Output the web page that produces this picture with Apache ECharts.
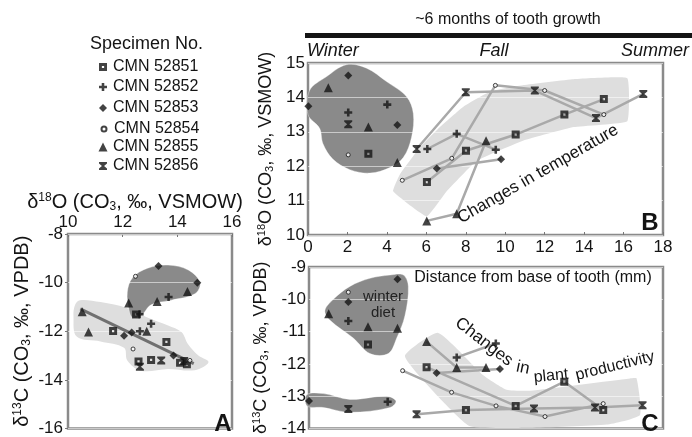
<!DOCTYPE html>
<html>
<head>
<meta charset="utf-8">
<script src="https://cdn.jsdelivr.net/npm/echarts@6/dist/echarts.min.js"></script>
<style>
  html, body { margin: 0; padding: 0; background: #fff; }
  #chart { width: 692px; height: 437px; }
</style>
</head>
<body>
<div id="chart"></div>
<script>
// specimen names + ticks
const specimens = ['CMN 52851', 'CMN 52852', 'CMN 52853', 'CMN 52854', 'CMN 52855', 'CMN 52856'];
const ticksA_x = [10, 12, 14, 16];
const ticksA_y = [-16, -14, -12, -10, -8];
const ticksB_x = [0, 18, 2];      // min, max, step
const ticksB_y = [10, 15, 1];
const ticksC_y = [-14, -9, 1];

// ---- panel A : d18O (x) vs d13C (y)
const aSquare = [[12.49, -11.31], [11.65, -11.99], [13.6, -12.44], [12.58, -13.24], [13.04, -13.18], [14.1, -13.3], [14.35, -13.36]];
const aPlus = [[13.68, -10.59], [13.04, -11.69], [12.63, -12.0], [12.62, -11.3]];
const aDiamond = [[13.31, -9.32], [14.73, -10.01], [12.05, -12.18], [12.33, -12.05], [13.86, -13.0]];
const aCircle = [[12.47, -9.74], [12.38, -12.73], [14.46, -13.2]];
const aTriangle = [[14.37, -10.36], [13.26, -10.78], [12.22, -10.84], [10.52, -11.2], [10.75, -12.03], [12.88, -12.0]];
const aHourglass = [[12.63, -13.46], [13.41, -13.2], [14.25, -13.22]];
const aTrend = [[10.45, -11.08], [14.6, -13.33]];
const aBlobDark = [[12.23, -11.11], [12.17, -10.39], [12.36, -9.8], [12.91, -9.41], [13.66, -9.28], [14.4, -9.48], [14.83, -10.0], [14.64, -10.46], [13.78, -10.72], [13.04, -10.91], [12.67, -11.37], [12.36, -11.44]];
const aBlobLight = [[10.44, -10.72], [11.19, -10.8], [12.17, -11.05], [13.04, -11.5], [13.66, -11.76], [14.15, -12.03], [14.4, -12.55], [14.77, -13.0], [15.14, -13.27], [14.64, -13.6], [13.66, -13.55], [12.67, -13.62], [12.17, -13.2], [12.05, -12.68], [11.19, -12.42], [10.32, -12.22], [10.2, -11.37], [10.26, -10.91]];

// ---- panel B : distance (x) vs d18O (y)
const bSquare = [[3.06, 12.36], [6.03, 11.54], [8.01, 12.45], [10.53, 12.92], [13, 13.5], [15, 13.95]];
const bPlus = [[2.04, 13.56], [4.02, 13.79], [6.05, 12.5], [7.54, 12.94], [9.52, 12.48]];
const bDiamond = [[0.02, 13.74], [2.04, 14.64], [4.53, 13.2], [6.53, 11.93], [9.79, 12.2]];
const bCircle = [[2.04, 12.33], [4.78, 11.59], [7.29, 12.23], [9.5, 14.35], [12, 14.2], [15, 13.5]];
const bTriangle = [[1.03, 14.28], [3.06, 13.14], [4.53, 12.11], [6.02, 10.41], [7.54, 10.62], [9.03, 12.74]];
const bHourglass = [[2.04, 13.22], [5.51, 12.5], [8, 14.15], [11.5, 14.2], [14.6, 13.4], [17, 14.1]];
const bTracks = [
  [[6.03, 11.54], [8.01, 12.45], [10.53, 12.92], [13, 13.5], [15, 13.95]],
  [[6.05, 12.5], [7.54, 12.94], [9.52, 12.48]],
  [[6.53, 11.93], [9.79, 12.2]],
  [[4.78, 11.59], [7.29, 12.23], [9.5, 14.35], [12, 14.2], [15, 13.5]],
  [[6.02, 10.41], [7.54, 10.62], [9.03, 12.74]],
  [[5.51, 12.5], [8, 14.15], [11.5, 14.2], [14.6, 13.4], [17, 14.1]]
];
const bBlobWinter = [[1.95, 14.95], [0.93, 14.6], [0.08, 14.2], [0, 13.5], [0.59, 13.1], [0.76, 12.65], [1.27, 12.2], [2.12, 11.9], [3.14, 11.8], [4.15, 11.96], [4.83, 12.25], [5.25, 12.84], [5.34, 13.53], [5.0, 14.02], [3.98, 14.46], [2.97, 14.85]];
const bBand = [[4.32, 11.27], [6.02, 10.54], [7.03, 11.27], [8.56, 12.16], [10.93, 12.75], [13.47, 13.14], [16.19, 13.31], [16.19, 14.56], [13.47, 14.53], [10.93, 14.36], [9.24, 14.17], [7.88, 13.73], [6.69, 13.14], [5.68, 12.55], [4.66, 11.76]];

// ---- panel C : distance (x) vs d13C (y)
const cSquare = [[3, -11.4], [5.98, -12.1], [7.98, -13.43], [10.51, -13.3], [12.98, -12.55], [14.96, -13.43]];
const cPlus = [[2, -10.67], [4, -13.17], [7.51, -11.8], [9.5, -11.37]];
const cDiamond = [[4.5, -9.38], [2, -10.08], [0, -13.15], [6.49, -12.28], [9.71, -12.16]];
const cCircle = [[2, -9.78], [4.76, -12.21], [7.25, -12.88], [9.51, -13.3], [12.0, -13.63], [14.96, -13.23]];
const cTriangle = [[1, -10.45], [3, -10.85], [4.5, -10.9], [5.98, -11.31], [7.51, -12.11], [9.0, -12.11]];
const cHourglass = [[2, -13.4], [5.47, -13.56], [11.44, -13.38], [14.54, -13.35], [16.96, -13.28]];
const cTracks = [
  [[5.98, -12.1], [10.51, -13.3], [12.98, -12.55], [14.96, -13.43]],
  [[7.51, -11.8], [9.5, -11.37]],
  [[6.49, -12.28], [9.71, -12.16]],
  [[4.76, -12.21], [7.25, -12.88], [9.51, -13.3], [12.0, -13.63], [14.96, -13.23]],
  [[5.98, -11.31], [7.51, -12.11], [9.0, -12.11]],
  [[5.47, -13.56], [7.98, -13.43], [11.44, -13.38], [14.54, -13.35], [16.96, -13.28]]
];
const cBlobWinter = [[4.12, -9.25], [4.8, -9.25], [5.05, -9.6], [4.88, -10.5], [4.46, -11.2], [4.03, -11.68], [3.1, -11.68], [2.25, -11.2], [1.07, -10.65], [0.81, -10.35], [1.24, -10.0], [2.08, -9.6], [3.1, -9.35]];
const cBlobLow = [[-0.1, -12.95], [0.73, -12.92], [2.08, -13.1], [3.95, -13.0], [4.42, -13.15], [4.12, -13.35], [2.08, -13.5], [0.73, -13.35], [-0.1, -13.3]];
const cBand = [[4.88, -11.76], [6.57, -11.04], [8.86, -12.35], [10.05, -12.8], [11.23, -12.83], [16.32, -12.45], [16.66, -12.45], [16.83, -13.58], [15.14, -13.88], [11.24, -13.98], [8.19, -13.93], [6.83, -13.18]];

const FONT = 'Liberation Sans, Arial, sans-serif';
const INK = '#141414';
const DARK = '#8a8a8a';
const LIGHT = '#dedede';
const TRACK = '#a9a9a9';

const chart = echarts.init(document.getElementById('chart'));

// marker look per specimen
const markers = {
  // black square with a small white hole (inner path wound the other way)
  'CMN 52851': { symbol: 'path://M0,0H10V10H0Z M3.6,3.6V6.4H6.4V3.6Z', symbolSize: 8, itemStyle: { color: INK } },
  'CMN 52852': { symbol: 'path://M3.4,0H6.6V3.4H10V6.6H6.6V10H3.4V6.6H0V3.4H3.4Z', symbolSize: 8, itemStyle: { color: INK } },
  'CMN 52853': { symbol: 'diamond', symbolSize: 8, itemStyle: { color: INK } },
  'CMN 52854': { symbol: 'circle', symbolSize: 4, itemStyle: { color: '#fff', borderColor: INK, borderWidth: 1 } },
  'CMN 52855': { symbol: 'triangle', symbolSize: 9, itemStyle: { color: INK } },
  'CMN 52856': { symbol: 'path://M0,0H10V2L6.3,5L10,8V10H0V8L3.7,5L0,2Z', symbolSize: [8, 8], itemStyle: { color: INK } }
};
// legend rows (icon size per row so the small circle stays small)
const legendRowY = [68, 88, 109, 130, 148, 167];
const legendIcon = [8, 8, 8, 5, 9, 8];

function scatter(gi, name, data) {
  return Object.assign({ type: 'scatter', name, xAxisIndex: gi, yAxisIndex: gi, data, z: 5, silent: true }, markers[name]);
}

function blob(gi, pts, fill, smooth, stroke) {
  return {
    type: 'custom', xAxisIndex: gi, yAxisIndex: gi, z: 1, silent: true,
    data: [pts[0]],
    renderItem: (params, api) => ({
      type: 'polygon',
      shape: { points: pts.map(p => api.coord(p)), smooth: smooth },
      style: { fill: fill, stroke: stroke || null, lineWidth: 1 }
    })
  };
}

function track(gi, data, color, width) {
  return { type: 'line', xAxisIndex: gi, yAxisIndex: gi, data, showSymbol: false, z: 3, silent: true,
    lineStyle: { color: color || TRACK, width: width || 2.5 } };
}

const axisName = (el, sub, tail) => `{t|δ}{sup|${el}}{t|${sub} (CO}{sub|3}{t|, ‰, ${tail})}`;
function nameRich(size) {
  const small = Math.round(size * 0.6);
  const shift = Math.round(size * 0.45);
  return {
    t: { fontSize: size, fontFamily: FONT, color: INK },
    sup: { fontSize: small, fontFamily: FONT, color: INK, padding: [0, 0, shift, 0] },
    sub: { fontSize: small, fontFamily: FONT, color: INK, padding: [shift, 0, 0, 0] }
  };
}
const label = { fontSize: 17, fontFamily: FONT, color: INK };
const gridLine = { show: true, lineStyle: { color: 'rgba(255,255,255,0.55)', width: 1 } };

const legends = specimens.map((name, i) => ({
  data: [name], orient: 'vertical',
  left: 103 - legendIcon[i] / 2, top: legendRowY[i] - 9,
  itemWidth: legendIcon[i], itemHeight: legendIcon[i], padding: 0,
  itemGap: 0, selectedMode: false,
  textStyle: { fontSize: 16, fontFamily: FONT, color: INK, padding: [0, 0, 0, 113 - (103 + legendIcon[i] / 2) - 5] }
}));

const option = {
  animation: false,
  backgroundColor: '#fff',
  title: { text: 'Specimen No.', left: 90, top: 35, padding: 0, textStyle: { fontSize: 18, fontWeight: 'normal', fontFamily: FONT, color: INK } },
  legend: legends,
  grid: [
    { left: 68, top: 234, width: 164, height: 203, show: true, borderColor: '#8a8a8a', borderWidth: 2.5 },
    { left: 308, top: 63, width: 355, height: 172, show: true, borderColor: '#8a8a8a', borderWidth: 2.5 },
    { left: 309, top: 267, width: 354, height: 168, show: true, borderColor: '#8a8a8a', borderWidth: 2.5 }
  ],
  xAxis: [
    { gridIndex: 0, type: 'value', position: 'top', min: ticksA_x[0], max: ticksA_x[ticksA_x.length - 1], interval: ticksA_x[1] - ticksA_x[0],
      name: axisName('18', 'O', 'VSMOW'), nameLocation: 'middle', nameGap: 20,
      nameTextStyle: { rich: nameRich(20), padding: [0, 30, 0, 0] },
      axisLine: { show: false }, axisTick: { inside: true, length: 3, lineStyle: { color: '#777' } },
      axisLabel: Object.assign({ margin: 3 }, label), splitLine: { show: false } },
    { gridIndex: 1, type: 'value', min: ticksB_x[0], max: ticksB_x[1], interval: ticksB_x[2],
      axisLine: { show: false }, axisTick: { inside: true, length: 3, lineStyle: { color: '#777' } },
      axisLabel: Object.assign({ margin: 4 }, label), splitLine: { show: false } },
    { gridIndex: 2, type: 'value', min: ticksB_x[0], max: ticksB_x[1], interval: ticksB_x[2],
      axisLine: { show: false }, axisTick: { show: false }, axisLabel: { show: false }, splitLine: { show: false } }
  ],
  yAxis: [
    { gridIndex: 0, type: 'value', min: ticksA_y[0], max: ticksA_y[ticksA_y.length - 1], interval: 2, z: 2,
      name: axisName('13', 'C', 'VPDB'), nameLocation: 'middle', nameGap: 35, nameTextStyle: { rich: nameRich(20) },
      axisLine: { show: false }, axisTick: { length: 3, lineStyle: { color: '#777' } },
      axisLabel: Object.assign({ margin: 5 }, label), splitLine: gridLine },
    { gridIndex: 1, type: 'value', min: ticksB_y[0], max: ticksB_y[1], interval: ticksB_y[2], z: 2,
      name: axisName('18', 'O', 'VSMOW'), nameLocation: 'middle', nameGap: 28, nameTextStyle: { rich: nameRich(18) },
      axisLine: { show: false }, axisTick: { show: false },
      axisLabel: Object.assign({ margin: 3 }, label), splitLine: gridLine },
    { gridIndex: 2, type: 'value', min: ticksC_y[0], max: ticksC_y[1], interval: ticksC_y[2], z: 2,
      name: axisName('13', 'C', 'VPDB'), nameLocation: 'middle', nameGap: 28, nameTextStyle: { rich: nameRich(18) },
      axisLine: { show: false }, axisTick: { show: false },
      axisLabel: Object.assign({ margin: 3 }, label), splitLine: gridLine }
  ],
  graphic: [
    { type: 'rect', shape: { x: 305, y: 33, width: 387, height: 5 }, style: { fill: INK } },
    { type: 'text', x: 508, y: 20, style: { text: '~6 months of tooth growth', font: `16px ${FONT}`, fill: INK, textAlign: 'center', textVerticalAlign: 'middle' } },
    { type: 'text', x: 307, y: 51, style: { text: 'Winter', font: `italic 18px ${FONT}`, fill: INK, textAlign: 'left', textVerticalAlign: 'middle' } },
    { type: 'text', x: 494, y: 51, style: { text: 'Fall', font: `italic 18px ${FONT}`, fill: INK, textAlign: 'center', textVerticalAlign: 'middle' } },
    { type: 'text', x: 689, y: 51, style: { text: 'Summer', font: `italic 18px ${FONT}`, fill: INK, textAlign: 'right', textVerticalAlign: 'middle' } },
    { type: 'text', x: 538, y: 174, rotation: 0.52, z: 10, style: { text: 'Changes in temperature', font: `17px ${FONT}`, fill: INK, textAlign: 'center', textVerticalAlign: 'middle' } },
    { type: 'text', x: 533, y: 278, z: 10, style: { text: 'Distance from base of tooth (mm)', font: `16px ${FONT}`, fill: INK, textAlign: 'center', textVerticalAlign: 'middle' } },
    { type: 'text', x: 383, y: 297, z: 10, style: { text: 'winter', font: `15px ${FONT}`, fill: '#222', textAlign: 'center', textVerticalAlign: 'middle' } },
    { type: 'text', x: 383, y: 313, z: 10, style: { text: 'diet', font: `15px ${FONT}`, fill: '#222', textAlign: 'center', textVerticalAlign: 'middle' } },
    { type: 'text', x: 484, y: 342, rotation: -0.66, z: 10, style: { text: 'Changes', font: `17px ${FONT}`, fill: INK, textAlign: 'center', textVerticalAlign: 'middle' } },
    { type: 'text', x: 523, y: 368, rotation: -0.2, z: 10, style: { text: 'in', font: `17px ${FONT}`, fill: INK, textAlign: 'center', textVerticalAlign: 'middle' } },
    { type: 'text', x: 551, y: 376, rotation: 0.1, z: 10, style: { text: 'plant', font: `16px ${FONT}`, fill: INK, textAlign: 'center', textVerticalAlign: 'middle' } },
    { type: 'text', x: 615, y: 366, rotation: 0.24, z: 10, style: { text: 'productivity', font: `16px ${FONT}`, fill: INK, textAlign: 'center', textVerticalAlign: 'middle' } },
    { type: 'text', x: 223, y: 424, z: 10, style: { text: 'A', font: `bold 24px ${FONT}`, fill: INK, textAlign: 'center', textVerticalAlign: 'middle' } },
    { type: 'text', x: 650, y: 223, z: 10, style: { text: 'B', font: `bold 24px ${FONT}`, fill: INK, textAlign: 'center', textVerticalAlign: 'middle' } },
    { type: 'text', x: 650, y: 424, z: 10, style: { text: 'C', font: `bold 24px ${FONT}`, fill: INK, textAlign: 'center', textVerticalAlign: 'middle' } }
  ],
  series: [
    blob(0, aBlobLight, LIGHT, 0.35),
    blob(0, aBlobDark, DARK, 0.35, 'rgba(255,255,255,0.35)'),
    blob(1, bBand, LIGHT, 0.1),
    blob(1, bBlobWinter, DARK, 0.35, 'rgba(255,255,255,0.35)'),
    blob(2, cBand, LIGHT, 0.15),
    blob(2, cBlobWinter, DARK, 0.35, 'rgba(255,255,255,0.35)'),
    blob(2, cBlobLow, DARK, 0.35, 'rgba(255,255,255,0.35)'),
    track(0, aTrend, '#707070', 3),
    ...bTracks.map(t => track(1, t)),
    ...cTracks.map(t => track(2, t)),
    scatter(0, 'CMN 52851', aSquare), scatter(0, 'CMN 52852', aPlus), scatter(0, 'CMN 52853', aDiamond),
    scatter(0, 'CMN 52854', aCircle), scatter(0, 'CMN 52855', aTriangle), scatter(0, 'CMN 52856', aHourglass),
    scatter(1, 'CMN 52851', bSquare), scatter(1, 'CMN 52852', bPlus), scatter(1, 'CMN 52853', bDiamond),
    scatter(1, 'CMN 52854', bCircle), scatter(1, 'CMN 52855', bTriangle), scatter(1, 'CMN 52856', bHourglass),
    scatter(2, 'CMN 52851', cSquare), scatter(2, 'CMN 52852', cPlus), scatter(2, 'CMN 52853', cDiamond),
    scatter(2, 'CMN 52854', cCircle), scatter(2, 'CMN 52855', cTriangle), scatter(2, 'CMN 52856', cHourglass)
  ]
};

chart.setOption(option);
</script>
</body>
</html>
